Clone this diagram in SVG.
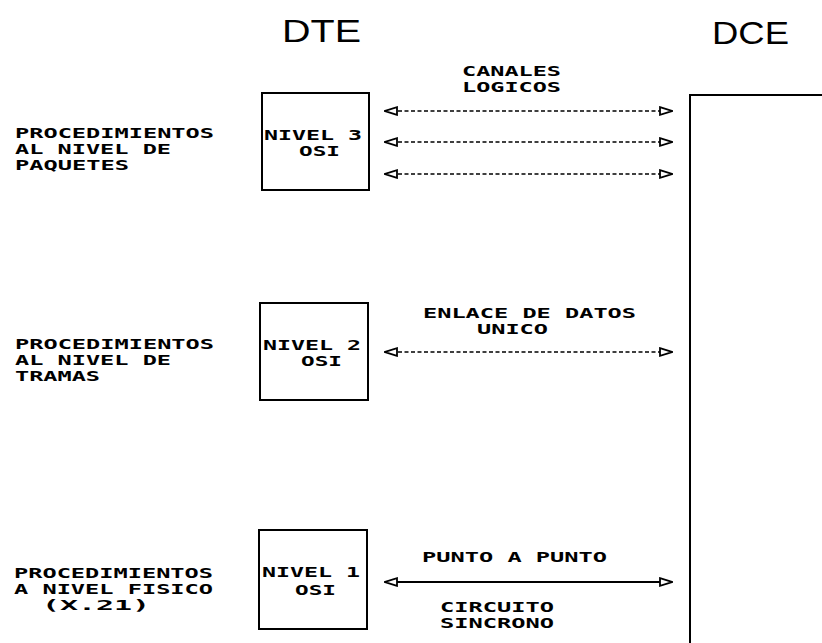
<svg xmlns="http://www.w3.org/2000/svg" width="822" height="643" viewBox="0 0 822 643">
<style>
.t{font-family:"DejaVu Sans Mono","Liberation Mono",monospace;font-weight:bold;font-size:14px;fill:#000}
.h{font-family:"Liberation Sans",Arial,sans-serif;font-size:32px;font-weight:normal;fill:#000}
.box{fill:none;stroke:#000;stroke-width:2}
.dash{stroke:#000;stroke-width:1.6;stroke-dasharray:4 2.5;fill:none;marker-start:url(#ah);marker-end:url(#ah)}
.solid{stroke:#000;stroke-width:1.8;fill:none;marker-start:url(#ah);marker-end:url(#ah)}
</style>
<defs>
<marker id="ah" viewBox="0 0 14 10" refX="13" refY="5" markerWidth="14" markerHeight="10" markerUnits="userSpaceOnUse" orient="auto-start-reverse">
<path d="M1,1.2 L13,5 L1,8.8 Z" fill="#fff" stroke="#000" stroke-width="1.8"/>
</marker>
</defs>
<rect width="822" height="643" fill="#fff"/>

<g id="headers">
<text class="h" x="282" y="42" textLength="79" lengthAdjust="spacingAndGlyphs">DTE</text>
<text class="h" x="712" y="44" textLength="77" lengthAdjust="spacingAndGlyphs">DCE</text>
</g>

<g id="proc3">
<text class="t" x="15" y="138" textLength="199" lengthAdjust="spacingAndGlyphs">PROCEDIMIENTOS</text>
<text class="t" x="15" y="154" textLength="156" lengthAdjust="spacingAndGlyphs">AL NIVEL DE</text>
<text class="t" x="15" y="170" textLength="114" lengthAdjust="spacingAndGlyphs">PAQUETES</text>
</g>
<g id="proc2">
<text class="t" x="15" y="349" textLength="199" lengthAdjust="spacingAndGlyphs">PROCEDIMIENTOS</text>
<text class="t" x="15" y="365" textLength="156" lengthAdjust="spacingAndGlyphs">AL NIVEL DE</text>
<text class="t" x="15" y="381" textLength="85" lengthAdjust="spacingAndGlyphs">TRAMAS</text>
</g>
<g id="proc1">
<text class="t" x="14" y="578" textLength="199" lengthAdjust="spacingAndGlyphs">PROCEDIMIENTOS</text>
<text class="t" x="14" y="594" textLength="199" lengthAdjust="spacingAndGlyphs">A NIVEL FISICO</text>
<text class="t" x="42" y="610" textLength="108" lengthAdjust="spacingAndGlyphs">(X.21)</text>
</g>

<g id="nivel3">
<rect class="box" x="262" y="93" width="107" height="97"/>
<text class="t" x="264" y="140" textLength="98" lengthAdjust="spacingAndGlyphs">NIVEL 3</text>
<text class="t" x="299" y="156" textLength="41" lengthAdjust="spacingAndGlyphs">OSI</text>
</g>
<g id="nivel2">
<rect class="box" x="260" y="303" width="108" height="97"/>
<text class="t" x="263" y="350" textLength="98" lengthAdjust="spacingAndGlyphs">NIVEL 2</text>
<text class="t" x="301" y="366" textLength="41" lengthAdjust="spacingAndGlyphs">OSI</text>
</g>
<g id="nivel1">
<rect class="box" x="259" y="530" width="108" height="99"/>
<text class="t" x="262" y="577" textLength="98" lengthAdjust="spacingAndGlyphs">NIVEL 1</text>
<text class="t" x="295" y="595" textLength="41" lengthAdjust="spacingAndGlyphs">OSI</text>
</g>

<g id="dce">
<path d="M690,643 V95 H822" fill="none" stroke="#000" stroke-width="2"/>
</g>

<g id="labels">
<text class="t" x="462" y="76" textLength="99" lengthAdjust="spacingAndGlyphs">CANALES</text>
<text class="t" x="462" y="92" textLength="99" lengthAdjust="spacingAndGlyphs">LOGICOS</text>
<text class="t" x="423" y="318" textLength="213" lengthAdjust="spacingAndGlyphs">ENLACE DE DATOS</text>
<text class="t" x="477" y="334" textLength="71" lengthAdjust="spacingAndGlyphs">UNICO</text>
<text class="t" x="422" y="562" textLength="185" lengthAdjust="spacingAndGlyphs">PUNTO A PUNTO</text>
<text class="t" x="440" y="612" textLength="114" lengthAdjust="spacingAndGlyphs">CIRCUITO</text>
<text class="t" x="440" y="628" textLength="114" lengthAdjust="spacingAndGlyphs">SINCRONO</text>
</g>

<g id="connectors">
<line class="dash" x1="385" y1="111" x2="672" y2="111"/>
<line class="dash" x1="385" y1="142" x2="672" y2="142"/>
<line class="dash" x1="385" y1="174" x2="672" y2="174"/>
<line class="dash" x1="385" y1="352" x2="672" y2="352"/>
<line class="solid" x1="385" y1="582" x2="672" y2="582"/>
</g>
</svg>
